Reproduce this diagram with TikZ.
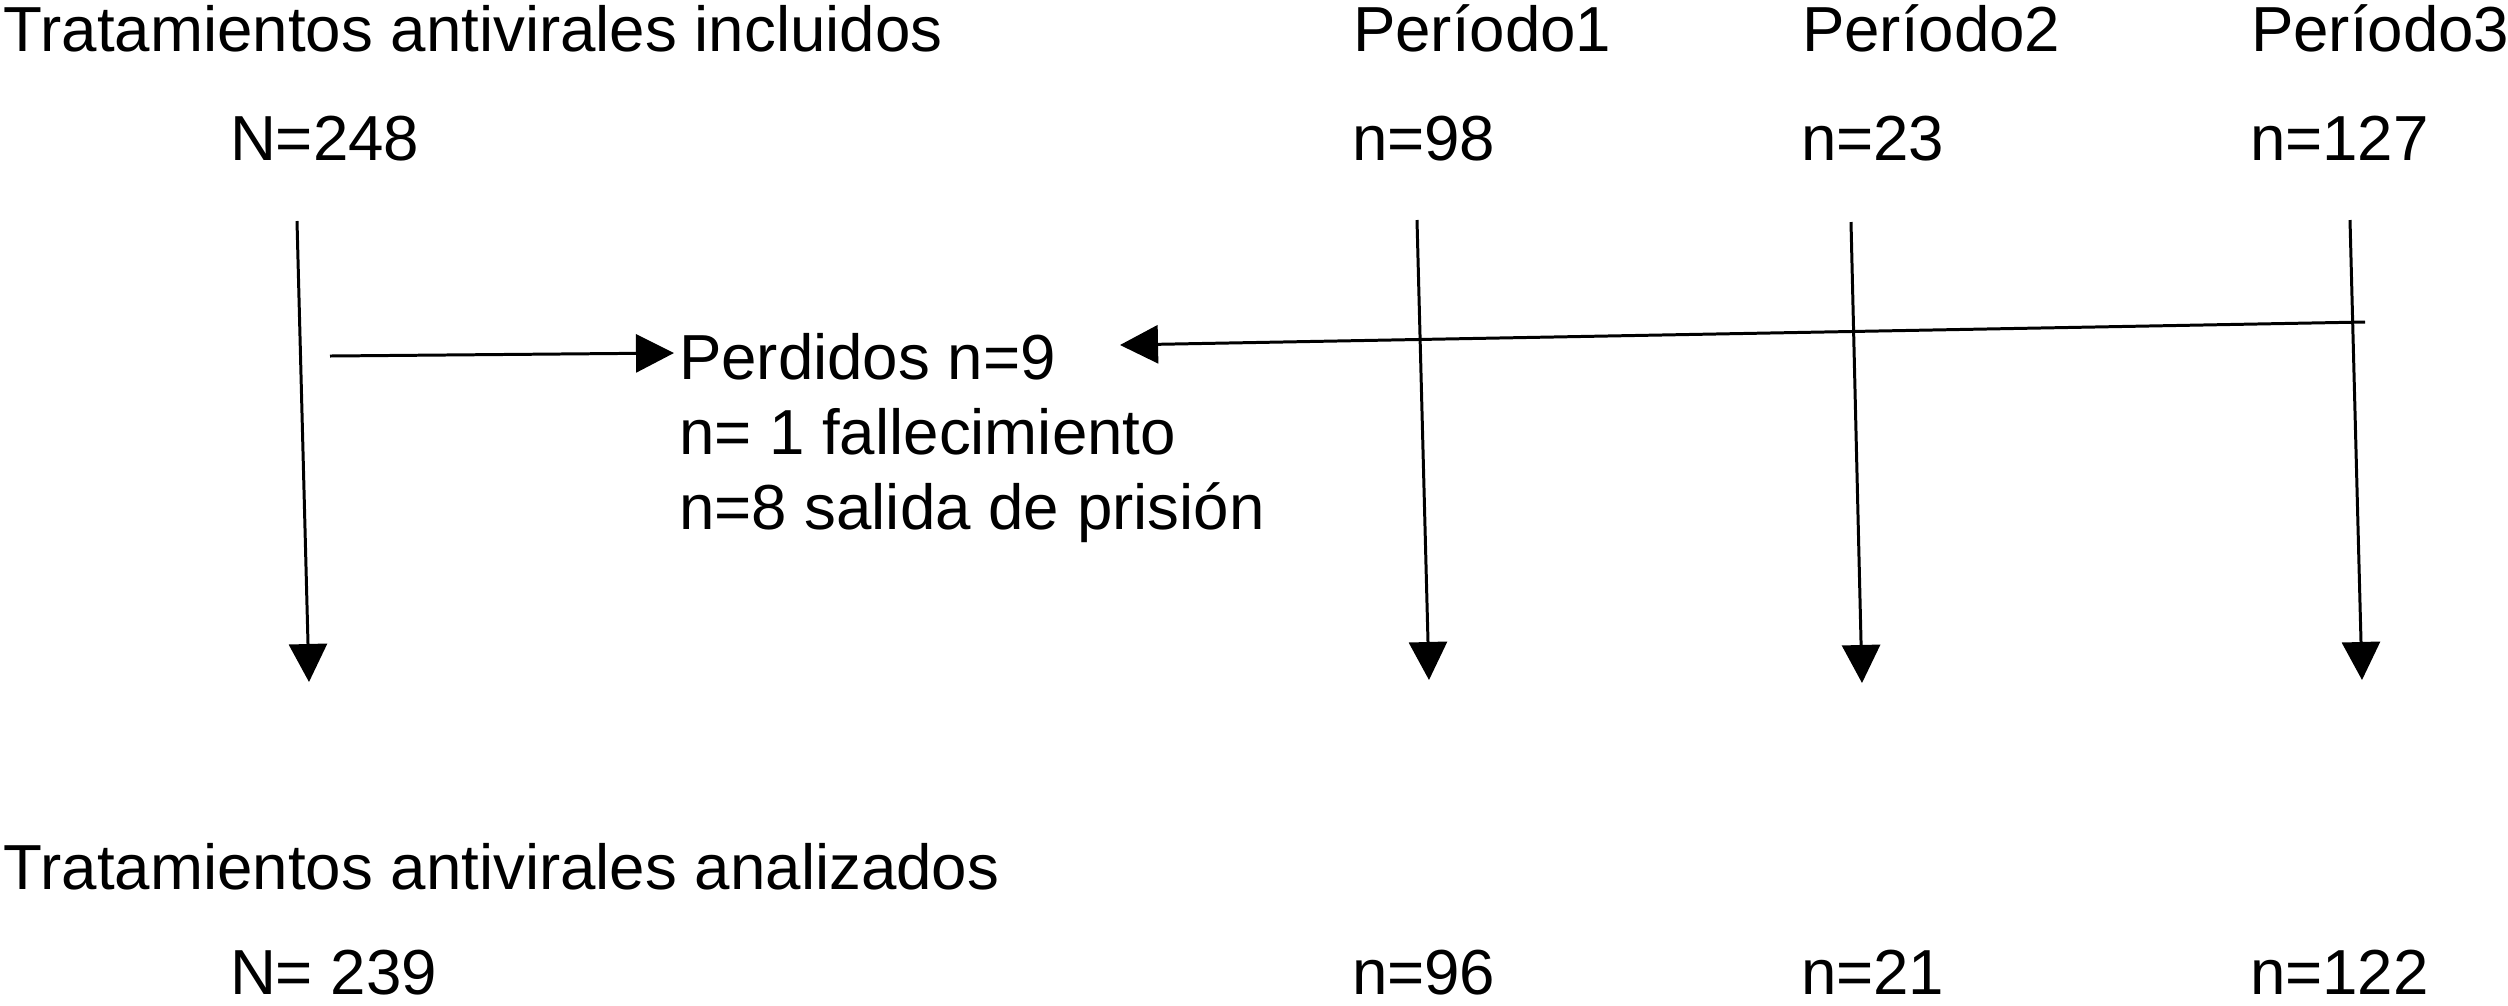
\documentclass[tikz,border=0pt]{standalone}
\usepackage{fontspec}
\setmainfont{Liberation Sans}
\usetikzlibrary{arrows.meta}
\tikzset{
  lbl/.style={anchor=base west, inner sep=0pt, outer sep=0pt, font=\fontsize{18.1}{21.7}\selectfont},
  lastrow/.style={lbl, text depth=0pt},
  conn/.style={line width=0.85pt, -{Triangle[length=0.38cm, width=0.38cm]}}
}
\begin{document}
\begin{tikzpicture}[x=0.01cm, y=-0.01cm]
\useasboundingbox (0,0) rectangle (2508,1005);
% top labels
\node[lbl] (inc) at (4,51) {Tratamientos antivirales incluidos};
\node[lbl] (p1) at (1353,51) {Período1};
\node[lbl] (p2) at (1802,51) {Período2};
\node[lbl] (p3) at (2251,51) {Período3};
\node[lbl] (Ninc) at (230,160) {N=248};
\node[lbl] (n1) at (1352,160) {n=98};
\node[lbl] (n2) at (1801,160) {n=23};
\node[lbl] (n3) at (2250,160) {n=127};
% lost
\node[lbl] (lost1) at (679,379) {Perdidos n=9};
\node[lbl] (lost2) at (679,454) {n= 1 fallecimiento};
\node[lbl] (lost3) at (679,529) {n=8 salida de prisión};
% bottom labels
\node[lbl] (ana) at (4,889) {Tratamientos antivirales analizados};
\node[lastrow] (Nana) at (230,994) {N= 239};
\node[lastrow] (m1) at (1352,994) {n=96};
\node[lastrow] (m2) at (1801,994) {n=21};
\node[lastrow] (m3) at (2250,994) {n=122};
% connector coordinates
\coordinate (v0s) at (297,221);
\coordinate (v0e) at (309,682);
\coordinate (v1s) at (1417,220);
\coordinate (v1e) at (1429,680);
\coordinate (v2s) at (1851,222);
\coordinate (v2e) at (1862,683);
\coordinate (v3s) at (2350,220);
\coordinate (v3e) at (2362,680);
\coordinate (hls) at (330,356);
\coordinate (hle) at (674,353);
\coordinate (hrs) at (2365,322);
\coordinate (hre) at (1120,345);
% connectors
\draw[conn] (v0s) -- (v0e);
\draw[conn] (v1s) -- (v1e);
\draw[conn] (v2s) -- (v2e);
\draw[conn] (v3s) -- (v3e);
\draw[conn] (hls) -- (hle);
\draw[conn] (hrs) -- (hre);
\end{tikzpicture}
\end{document}
